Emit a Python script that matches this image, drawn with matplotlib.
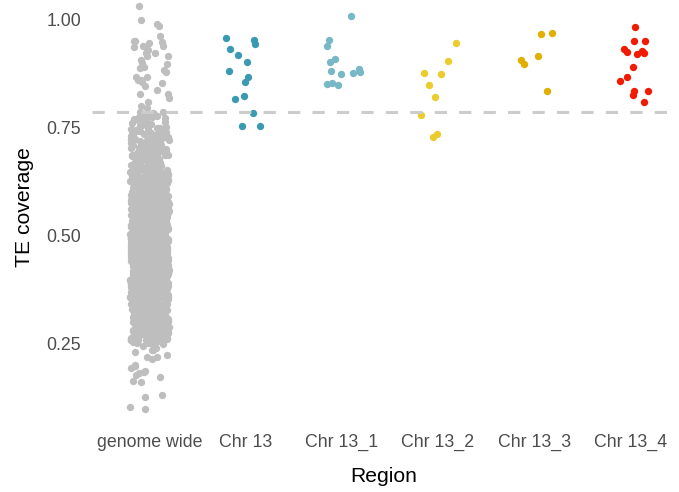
import numpy as np
import matplotlib
matplotlib.use("Agg")
import matplotlib.pyplot as plt

plt.rcParams['font.family'] = ['Liberation Sans', 'DejaVu Sans']

# ---- data ----
categories = ["genome wide", "Chr 13", "Chr 13_1", "Chr 13_2", "Chr 13_3", "Chr 13_4"]
colors = ["#BEBEBE", "#3B9AB2", "#78B7C5", "#EBCC2A", "#E1AF00", "#F21A00"]

# genome wide: individually readable tail points
gw_high = [1.030, 0.997, 0.989, 0.984, 0.962, 0.950, 0.944, 0.949, 0.947, 0.938,
           0.936, 0.939, 0.936, 0.929, 0.921, 0.922, 0.915, 0.915, 0.898, 0.906,
           0.896, 0.890, 0.886, 0.883, 0.879, 0.867, 0.867, 0.855, 0.852, 0.859,
           0.859, 0.845, 0.836, 0.827, 0.827, 0.817, 0.809, 0.799, 0.794, 0.786]
gw_low = [0.098, 0.102, 0.126, 0.131, 0.162, 0.164, 0.173, 0.177, 0.181, 0.185,
          0.187, 0.193, 0.198, 0.200, 0.213, 0.218, 0.219, 0.223, 0.231, 0.235,
          0.235, 0.240, 0.245, 0.248]
# genome wide dense core, read as a histogram (bin edges and counts)
gw_core_edges = [0.25, 0.30, 0.35, 0.40, 0.45, 0.50, 0.55, 0.60, 0.65, 0.70, 0.75, 0.785]
gw_core_counts = [90, 140, 160, 165, 165, 155, 140, 110, 75, 50, 22]

chr13 = [0.931, 0.943, 0.917, 0.956, 0.952, 0.900, 0.880, 0.866, 0.854, 0.822,
         0.815, 0.782, 0.754, 0.753]
chr13_1 = [1.008, 0.953, 0.938, 0.900, 0.908, 0.881, 0.873, 0.884, 0.879, 0.875,
           0.850, 0.853, 0.848]
chr13_2 = [0.946, 0.903, 0.874, 0.875, 0.847, 0.819, 0.779, 0.734, 0.728]
chr13_3 = [0.965, 0.969, 0.915, 0.906, 0.897, 0.833]
chr13_4 = [0.982, 0.949, 0.949, 0.930, 0.922, 0.926, 0.923, 0.920, 0.890, 0.866,
           0.856, 0.835, 0.833, 0.824, 0.809]
threshold = 0.786
yticks = [0.25, 0.50, 0.75, 1.00]
ytick_labels = ["0.25", "0.50", "0.75", "1.00"]

# expand genome-wide histogram into values
core = []
for lo, hi, n in zip(gw_core_edges[:-1], gw_core_edges[1:], gw_core_counts):
    core.extend(np.linspace(lo, hi, n, endpoint=False) + (hi - lo) / (2 * n))
genome_wide = np.array(gw_low + list(core) + gw_high)

groups = [genome_wide, chr13, chr13_1, chr13_2, chr13_3, chr13_4]

# ---- plot ----
fig = plt.figure(figsize=(6.79, 4.92), dpi=100)
ax = fig.add_axes([91.7 / 679, (492 - 429.5) / 492, (679 - 91.7) / 679, 429.5 / 492])

rng = np.random.default_rng(11)
for i, (vals, col) in enumerate(zip(groups, colors)):
    vals = np.asarray(vals)
    order = rng.permutation(len(vals))
    vals = vals[order]
    x = i + rng.uniform(-0.2, 0.2, len(vals))
    ax.scatter(x, vals, s=28, color=col, linewidths=0, zorder=2)

ax.axhline(threshold, color="#CCCCCC", linewidth=2.2, dashes=(4, 4), zorder=3)

ax.set_xlim(-0.6, 5 + (679 - 630.5) / 96.1)
ax.set_ylim(0.051, 451.6 / 432.4)
ax.set_xticks(range(len(categories)))
ax.set_xticklabels(categories)
ax.set_yticks(yticks)
ax.set_yticklabels(ytick_labels)
ax.tick_params(axis='both', length=0, labelsize=12.8, labelcolor="#4D4D4D")
ax.tick_params(axis='y', pad=7.5)
ax.tick_params(axis='x', pad=3.2)
for s in ax.spines.values():
    s.set_visible(False)
ax.grid(False)

fig.text(384 / 679, 1 - 476 / 492, "Region", ha="center", va="center", fontsize=15.2, color="black")
fig.text(25 / 679, 1 - 207 / 492, "TE coverage", ha="center", va="center", rotation=90,
         fontsize=15.2, color="black")

fig.savefig("out.png", dpi=100, facecolor="white")
